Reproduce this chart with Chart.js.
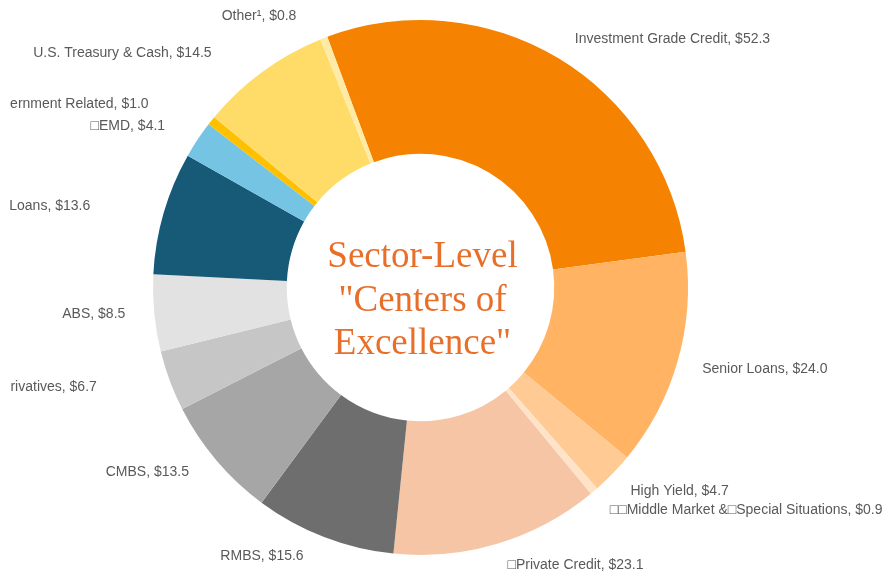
<!DOCTYPE html>
<html>
<head>
<meta charset="utf-8">
<script src="https://cdn.jsdelivr.net/npm/chart.js@4.4.1/dist/chart.umd.min.js"></script>
<style>
  html, body { margin: 0; padding: 0; background: #fff; overflow: hidden; }
  #grafica { display: block; }
</style>
</head>
<body>
<canvas id="grafica" width="889" height="573"></canvas>
<script>
// Sectores (en el orden de las agujas del reloj, empezando por Investment Grade Credit)
const sectores = [
  'Investment Grade Credit',
  'Senior Loans',
  'High Yield',
  '\u25A1\u25A1Middle Market &\u25A1Special Situations',
  '\u25A1Private Credit',
  'RMBS',
  'CMBS',
  'Derivatives',
  'ABS',
  'Loans',
  '\u25A1EMD',
  'Government Related',
  'U.S. Treasury & Cash',
  'Other\u00B9'
];

// Valores en miles de millones ($)
const valores = [52.3, 24.0, 4.7, 0.9, 23.1, 15.6, 13.5, 6.7, 8.5, 13.6, 4.1, 1.0, 14.5, 0.8];

const colores = [
  '#F58200', '#FFB363', '#FFCA94', '#FFE3C8', '#F6C5A5',
  '#6E6E6E', '#A6A6A6', '#C6C6C6', '#E2E2E2',
  '#165A78', '#75C4E3', '#FFC000', '#FFDC68', '#FFEBA5'
];

const tituloCentro = ['Sector-Level', '"Centers of', 'Excellence"'];

// Ajuste fino de cada etiqueta respecto a su punto en el arco [dx, dy]
const ajusteEtiquetas = [
  [9, -6], [10, 4], [7, 7], [6, 8], [5, 7],
  [-15, 5], [-16, 2], [-59, 1], [-14, -1],
  [-59, -3], [-20, -5], [-51, -7], [-42, -6], [-22, -8]
];

// --- Plugin: etiquetas externas ---
const etiquetasExternas = {
  id: 'etiquetasExternas',
  afterDatasetsDraw(chart) {
    const ctx = chart.ctx;
    const meta = chart.getDatasetMeta(0);
    ctx.save();
    // el cuadro de texto original recorta a la izquierda
    ctx.beginPath();
    ctx.rect(10, 0, chart.width - 10, chart.height);
    ctx.clip();
    ctx.font = '14px "Liberation Sans", Arial, sans-serif';
    ctx.fillStyle = '#595959';
    ctx.textBaseline = 'middle';
    meta.data.forEach((arco, i) => {
      const p = arco.getProps(['x', 'y', 'startAngle', 'endAngle', 'outerRadius'], true);
      const medio = (p.startAngle + p.endAngle) / 2;
      const r = p.outerRadius + 15;
      const adj = ajusteEtiquetas[i] || [0, 0];
      const x = p.x + Math.cos(medio) * r + adj[0];
      const y = p.y + Math.sin(medio) * r + adj[1];
      ctx.textAlign = Math.cos(medio) >= 0 ? 'left' : 'right';
      ctx.fillText(sectores[i] + ', $' + valores[i].toFixed(1), x, y);
    });
    ctx.restore();
  }
};

// --- Plugin: texto del centro ---
const textoCentro = {
  id: 'textoCentro',
  afterDatasetsDraw(chart) {
    const ctx = chart.ctx;
    const arco = chart.getDatasetMeta(0).data[0];
    const cx = arco.x, cy = arco.y;
    ctx.save();
    ctx.font = '37px "Liberation Serif", "Times New Roman", serif';
    ctx.fillStyle = '#E86F2A';
    ctx.textAlign = 'center';
    ctx.textBaseline = 'middle';
    const salto = 43.5;
    tituloCentro.forEach((linea, i) => {
      ctx.fillText(linea, cx + 2, cy - 30 + i * salto);
    });
    ctx.restore();
  }
};

new Chart(document.getElementById('grafica'), {
  type: 'doughnut',
  data: {
    labels: sectores,
    datasets: [{
      data: valores,
      backgroundColor: colores,
      borderWidth: 0,
      hoverOffset: 0
    }]
  },
  options: {
    responsive: false,
    animation: false,
    cutout: '50%',
    rotation: -20.4,
    layout: { padding: { top: 20, bottom: 18, left: 0, right: 48 } },
    plugins: {
      legend: { display: false },
      tooltip: { enabled: false }
    }
  },
  plugins: [etiquetasExternas, textoCentro]
});
</script>
</body>
</html>
